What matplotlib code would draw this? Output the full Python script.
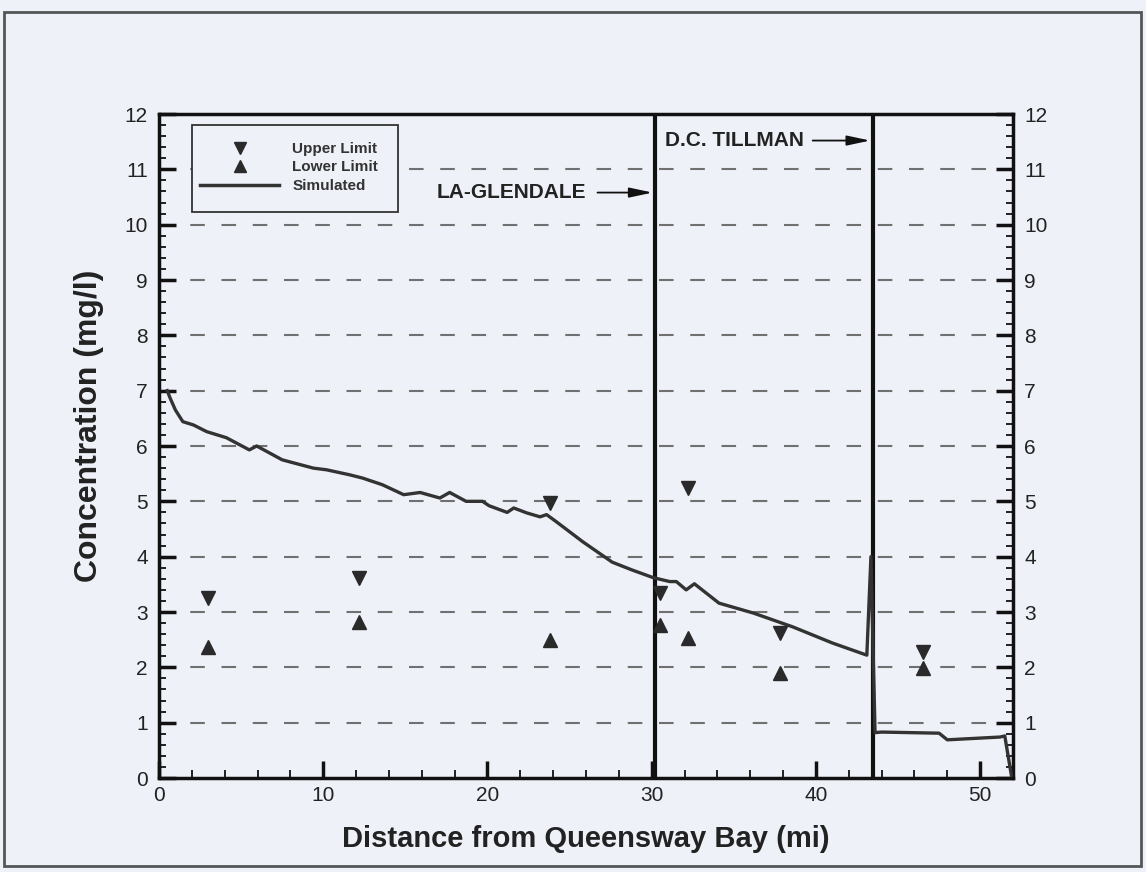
import matplotlib
matplotlib.use("Agg")
import matplotlib.pyplot as plt
from matplotlib.lines import Line2D
from matplotlib.patches import Rectangle
from matplotlib.ticker import MultipleLocator

# ---- data ----
sim_x = [0.5, 0.7, 1.0, 1.45, 2.1, 2.9, 4.1, 5.5, 5.95, 7.5, 9.4, 10.2, 11.6, 12.4,
         13.6, 14.9, 15.9, 17.1, 17.7, 18.7, 19.7, 20.1, 21.2, 21.6, 22.4, 23.2,
         23.6, 24.2, 25.8, 27.6, 28.8, 30.1, 31.1, 31.5, 32.1, 32.6, 34.1, 36.2,
         38.6, 41.0, 43.1, 43.35, 43.6, 44.0, 47.5, 48.0, 51.2, 51.5, 51.9]
sim_y = [7.0, 6.85, 6.65, 6.44, 6.38, 6.26, 6.15, 5.93, 6.0, 5.75, 5.6, 5.57, 5.48, 5.42,
         5.3, 5.12, 5.16, 5.06, 5.16, 5.0, 5.0, 4.92, 4.8, 4.88, 4.79, 4.72,
         4.76, 4.63, 4.27, 3.9, 3.76, 3.62, 3.55, 3.55, 3.4, 3.51, 3.16, 2.98,
         2.73, 2.44, 2.22, 4.0, 0.82, 0.83, 0.81, 0.69, 0.74, 0.76, 0.05]

limit_x = [3.0, 12.2, 23.8, 30.5, 32.2, 37.8, 46.5]
upper_y = [3.25, 3.62, 4.97, 3.35, 5.24, 2.62, 2.28]
lower_y = [2.37, 2.82, 2.50, 2.77, 2.53, 1.90, 1.99]

plant_x = [30.2, 43.45]
plant_names = ["LA-GLENDALE", "D.C. TILLMAN"]
plant_label_y = [10.58, 11.52]
plant_label_x0 = [16.9, 30.8]
plant_arrow_x0 = [26.7, 39.8]

x_label = "Distance from Queensway Bay (mi)"
y_label = "Concentration (mg/l)"
legend_labels = ["Upper Limit", "Lower Limit", "Simulated"]

# ---- style ----
BG = "#eef1f8"
plt.rcParams['font.family'] = ['Liberation Sans', 'DejaVu Sans']

fig = plt.figure(figsize=(11.46, 8.72), dpi=100, facecolor=BG)
ax = fig.add_axes([159/1146, 1-778/872, (1013-159)/1146, (778-114)/872])
ax.set_facecolor(BG)

# border around the figure
fig.patches.append(Rectangle((4/1146, 1-866/872), 1137/1146, 854/872,
                             transform=fig.transFigure, fill=False,
                             edgecolor="#555555", lw=2))

ax.set_xlim(0, 52)
ax.set_ylim(0, 12)

# grid
for yv in range(1, 12):
    ax.axhline(yv, color="#707070", lw=1.5, dashes=(7, 8), zorder=1)

# vertical plant lines
for px in plant_x:
    ax.axvline(px, color="#111111", lw=3, zorder=3)

# simulated
ax.plot(sim_x, sim_y, color="#333333", lw=2.4, zorder=4)

# limits
ax.plot(limit_x, upper_y, linestyle="none", marker="v", ms=10, color="#2a2a2a", zorder=5)
ax.plot(limit_x, lower_y, linestyle="none", marker="^", ms=10, color="#2a2a2a", zorder=5)

# annotations
for name, px, ly, lx0, ax0 in zip(plant_names, plant_x, plant_label_y, plant_label_x0, plant_arrow_x0):
    ax.text(lx0, ly, name, fontsize=15, fontweight="bold", color="#222222",
            ha="left", va="center", zorder=6)
    ax.annotate("", xy=(px - 0.15, ly), xytext=(ax0, ly),
                arrowprops=dict(arrowstyle="-|>,head_length=1.4,head_width=0.3",
                                color="#111111", lw=1.3, shrinkA=0, shrinkB=0),
                zorder=6)

# ticks
ax.xaxis.set_major_locator(MultipleLocator(10))
ax.xaxis.set_minor_locator(MultipleLocator(2))
ax.yaxis.set_major_locator(MultipleLocator(1))
ax.yaxis.set_minor_locator(MultipleLocator(0.2))
ax.tick_params(which="both", direction="in", top=False, right=True,
               labelright=True, color="#111111")
ax.tick_params(which="major", axis="x", length=12, width=2.5, labelsize=15, pad=6)
ax.tick_params(which="minor", axis="x", length=6, width=1.3)
ax.tick_params(which="major", axis="y", length=12, width=2.5, labelsize=15, pad=8)
ax.tick_params(which="minor", axis="y", length=5, width=1.3)
for lab in ax.get_xticklabels() + ax.get_yticklabels():
    lab.set_color("#222222")

for sp in ax.spines.values():
    sp.set_linewidth(2.5)
    sp.set_color("#111111")

ax.set_xlabel(x_label, fontsize=21, fontweight="bold", color="#222222", labelpad=14)
ax.set_ylabel(y_label, fontsize=23, fontweight="bold", color="#222222")
ax.yaxis.set_label_coords(-0.064, 0.53)

# legend frame and legend
ax.add_patch(Rectangle((0.039, 0.852), 0.241, 0.131, transform=ax.transAxes,
                       facecolor=BG, edgecolor="#333333", lw=1.3, zorder=6))
handles = [Line2D([], [], linestyle="none", marker="v", ms=8, color="#2a2a2a"),
           Line2D([], [], linestyle="none", marker="^", ms=8, color="#2a2a2a"),
           Line2D([], [], color="#333333", lw=2.5)]
leg = ax.legend(handles, legend_labels, loc="upper left",
                bbox_to_anchor=(0.048, 0.958),
                prop={"weight": "bold", "size": 11},
                frameon=False, handlelength=5.2,
                handletextpad=0.85, labelspacing=0.3, borderpad=0,
                borderaxespad=0)
leg.set_zorder(7)
for t in leg.get_texts():
    t.set_color("#333333")

fig.savefig("out.png", dpi=100, facecolor=BG)
